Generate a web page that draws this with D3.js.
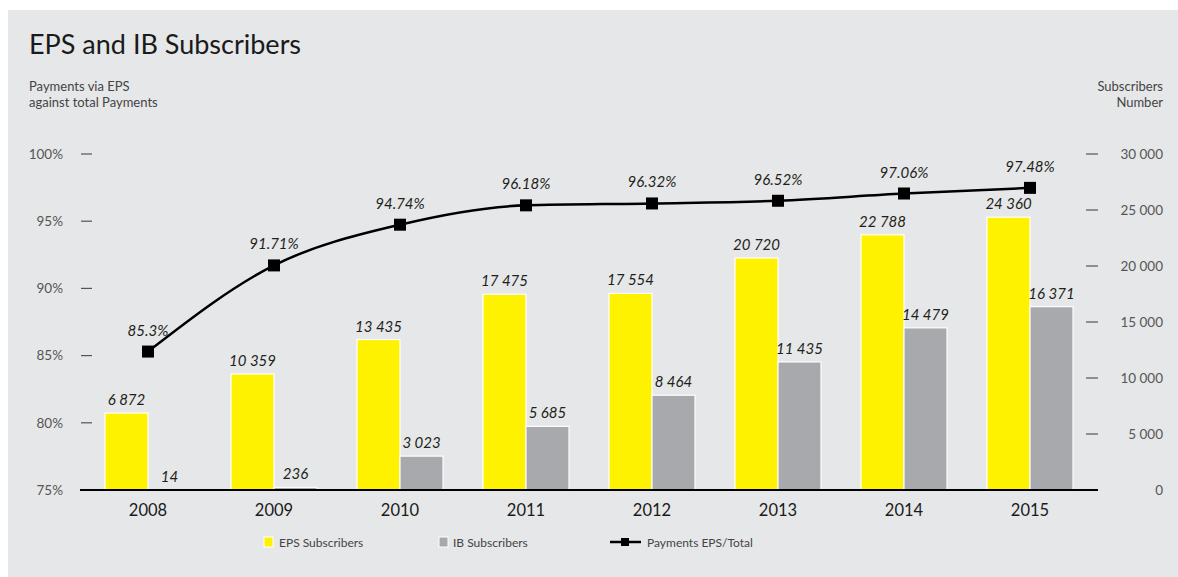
<!DOCTYPE html>
<html>
<head>
<meta charset="utf-8">
<script src="https://cdn.jsdelivr.net/npm/d3@7"></script>
<style>
  html, body { margin: 0; padding: 0; background: #ffffff; }
  svg { display: block; }
  text { font-family: "Lato", "Noto Sans", sans-serif; }
</style>
</head>
<body>
<svg id="chart" width="1178" height="577"></svg>
<script>
// Data
const years = ["2008", "2009", "2010", "2011", "2012", "2013", "2014", "2015"];
const epsSubscribers = [6872, 10359, 13435, 17475, 17554, 20720, 22788, 24360];
const ibSubscribers = [14, 236, 3023, 5685, 8464, 11435, 14479, 16371];
const paymentsShare = [85.3, 91.71, 94.74, 96.18, 96.32, 96.52, 97.06, 97.48];
const pctTicks = [75, 80, 85, 90, 95, 100];
const countTicks = [0, 5000, 10000, 15000, 20000, 25000, 30000];

const svg = d3.select("#chart");
const W = 1178, H = 577;

// Panel background
svg.append("rect").attr("x", 8).attr("y", 10).attr("width", W - 8).attr("height", H - 10)
  .attr("fill", "#e6e7e8");

const plotTop = 154, plotBottom = 490;
const x = d3.scaleBand().domain(years).range([85, 1093]).paddingInner(0).paddingOuter(0);
const xSub = d3.scaleBand().domain(["eps", "ib"]).range([0, 86]);
const yPct = d3.scaleLinear().domain([75, 100]).range([plotBottom, plotTop]);
const yCnt = d3.scaleLinear().domain([0, 30000]).range([plotBottom, plotTop]);

const fmtNum = v => d3.format(",")(v).replace(/,/g, "\u202F");

// Title and axis captions
svg.append("text").attr("x", 29).attr("y", 54).attr("font-size", 27).attr("fill", "#1a1a1a")
  .text("EPS and IB Subscribers");
const capL = svg.append("text").attr("x", 29).attr("y", 91).attr("font-size", 13).attr("fill", "#444");
capL.append("tspan").attr("x", 29).text("Payments via EPS");
capL.append("tspan").attr("x", 29).attr("dy", 16).text("against total Payments");
const capR = svg.append("text").attr("x", 1163).attr("y", 91).attr("font-size", 13).attr("fill", "#444")
  .attr("text-anchor", "end");
capR.append("tspan").attr("x", 1163).text("Subscribers");
capR.append("tspan").attr("x", 1163).attr("dy", 16).text("Number");

// Left axis (percent)
const leftAxis = d3.axisLeft(yPct).tickValues(pctTicks).tickFormat(d => d + "%").tickSize(0).tickPadding(0);
const gL = svg.append("g").attr("transform", "translate(63,0)").call(leftAxis);
gL.select(".domain").remove();
gL.selectAll("text").attr("font-size", 13.5).attr("fill", "#555").attr("font-family", "Lato, sans-serif");
svg.append("g").selectAll("line").data(pctTicks.filter(d => d > 75)).join("line")
  .attr("x1", 81).attr("x2", 92).attr("y1", d => yPct(d)).attr("y2", d => yPct(d))
  .attr("stroke", "#555").attr("stroke-width", 1.2);

// Right axis (count)
const rightAxis = d3.axisRight(yCnt).tickValues(countTicks).tickFormat(fmtNum).tickSize(0).tickPadding(0);
const gR = svg.append("g").attr("transform", "translate(1163,0)").call(rightAxis);
gR.select(".domain").remove();
gR.selectAll("text").attr("font-size", 13.5).attr("fill", "#555").attr("text-anchor", "end")
  .attr("font-family", "Lato, sans-serif");
svg.append("g").selectAll("line").data(countTicks.filter(d => d > 0)).join("line")
  .attr("x1", 1086).attr("x2", 1098).attr("y1", d => yCnt(d)).attr("y2", d => yCnt(d))
  .attr("stroke", "#555").attr("stroke-width", 1.2);

// Bars
const groups = svg.append("g").selectAll("g").data(years).join("g")
  .attr("transform", d => `translate(${x(d) + x.bandwidth() / 2 - 43},0)`);
groups.append("rect")
  .attr("x", xSub("eps")).attr("width", xSub.bandwidth())
  .attr("y", (d, i) => yCnt(epsSubscribers[i])).attr("height", (d, i) => plotBottom - yCnt(epsSubscribers[i]))
  .attr("fill", "#fff200").attr("stroke", "#ffffff").attr("stroke-width", 1.2);
groups.append("rect")
  .attr("x", xSub("ib")).attr("width", xSub.bandwidth())
  .attr("y", (d, i) => yCnt(ibSubscribers[i])).attr("height", (d, i) => plotBottom - yCnt(ibSubscribers[i]))
  .attr("fill", "#a7a9ac").attr("stroke", "#ffffff").attr("stroke-width", 1.2);
groups.append("text")
  .attr("x", xSub("eps") + xSub.bandwidth() / 2).attr("y", (d, i) => yCnt(epsSubscribers[i]) - 8)
  .attr("text-anchor", "middle").attr("font-size", 15).attr("font-style", "italic").attr("fill", "#231f20")
  .text((d, i) => fmtNum(epsSubscribers[i]));
groups.append("text")
  .attr("x", xSub("ib") + xSub.bandwidth() / 2).attr("y", (d, i) => yCnt(ibSubscribers[i]) - 8)
  .attr("text-anchor", "middle").attr("font-size", 15).attr("font-style", "italic").attr("fill", "#231f20")
  .text((d, i) => fmtNum(ibSubscribers[i]));

// Baseline and category axis
svg.append("line").attr("x1", 80).attr("x2", 1098).attr("y1", plotBottom).attr("y2", plotBottom)
  .attr("stroke", "#000").attr("stroke-width", 2);
const bottomAxis = d3.axisBottom(x).tickSize(0).tickPadding(0);
const gB = svg.append("g").attr("transform", `translate(0,${plotBottom + 18})`).call(bottomAxis);
gB.select(".domain").remove();
gB.selectAll("text").attr("font-size", 16.5).attr("fill", "#1a1a1a").attr("dy", "0.5em")
  .attr("font-family", "Lato, sans-serif");

// Payments share line
const cx = d => x(d) + x.bandwidth() / 2;
const line = d3.line().x((d, i) => cx(years[i])).y(d => yPct(d)).curve(d3.curveMonotoneX);
svg.append("path").datum(paymentsShare).attr("d", line)
  .attr("fill", "none").attr("stroke", "#000").attr("stroke-width", 2.5);
svg.append("g").selectAll("rect").data(paymentsShare).join("rect")
  .attr("x", (d, i) => cx(years[i]) - 6).attr("y", d => yPct(d) - 6)
  .attr("width", 12).attr("height", 12).attr("fill", "#000");
svg.append("g").selectAll("text").data(paymentsShare).join("text")
  .attr("x", (d, i) => cx(years[i])).attr("y", d => yPct(d) - 16)
  .attr("text-anchor", "middle").attr("font-size", 15).attr("font-style", "italic").attr("fill", "#231f20")
  .text(d => d + "%");

// Legend
const leg = svg.append("g").attr("transform", "translate(0,543)");
leg.append("rect").attr("x", 264).attr("y", -6).attr("width", 9).attr("height", 10)
  .attr("fill", "#fff200").attr("stroke", "#fff").attr("stroke-width", 1);
leg.append("text").attr("x", 279).attr("y", 4).attr("font-size", 12).attr("fill", "#444").text("EPS Subscribers");
leg.append("rect").attr("x", 439).attr("y", -6).attr("width", 9).attr("height", 10)
  .attr("fill", "#a7a9ac").attr("stroke", "#fff").attr("stroke-width", 1);
leg.append("text").attr("x", 453).attr("y", 4).attr("font-size", 12).attr("fill", "#444").text("IB Subscribers");
leg.append("line").attr("x1", 610).attr("x2", 641).attr("y1", -1).attr("y2", -1)
  .attr("stroke", "#000").attr("stroke-width", 2.5);
leg.append("rect").attr("x", 621).attr("y", -5).attr("width", 8).attr("height", 8).attr("fill", "#000");
leg.append("text").attr("x", 647).attr("y", 4).attr("font-size", 12).attr("fill", "#444").text("Payments EPS/Total");
</script>
</body>
</html>
